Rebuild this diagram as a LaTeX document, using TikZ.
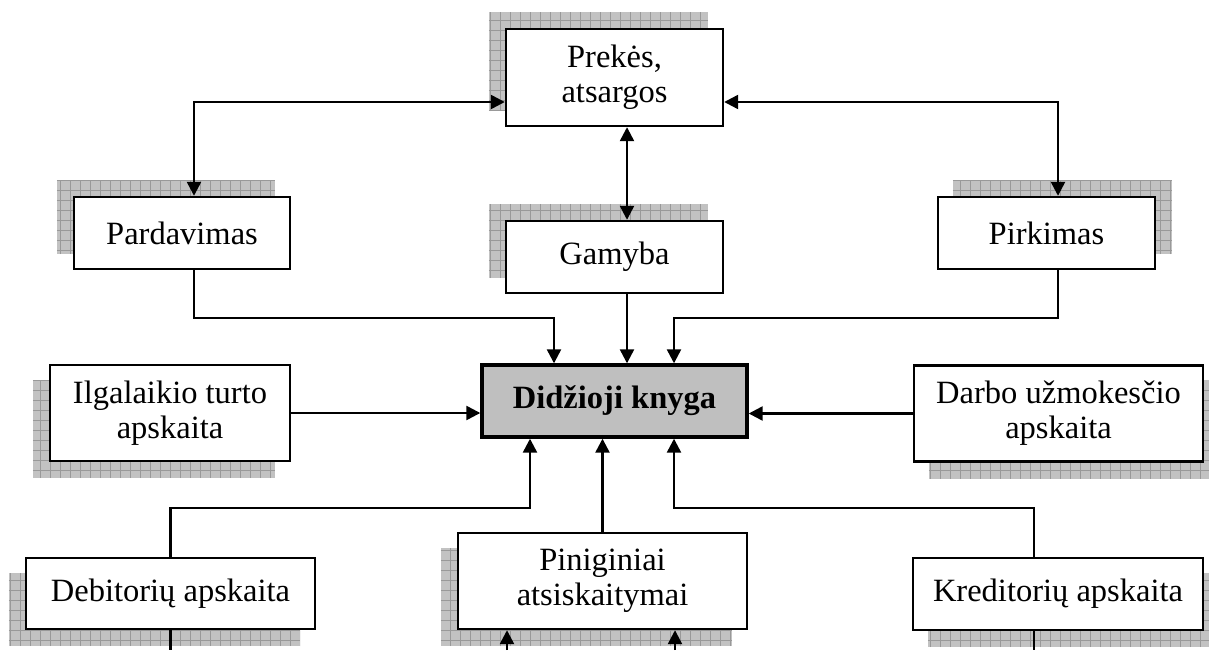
\documentclass[tikz,border=0pt]{standalone}
\usepackage{fontspec}
\setmainfont{Liberation Serif}
\usetikzlibrary{arrows.meta,backgrounds}
\tikzset{
  box/.style={draw=black, line width=2.4pt, fill=white, inner sep=0pt, align=center,
    font=\fontsize{32.5}{35}\selectfont},
  mainbox/.style={box, line width=3.4pt, fill=black!25, font=\fontsize{32.5}{35}\selectfont\bfseries},
  conn/.style={line width=2.4pt, -{Triangle[length=14pt,width=14pt]}},
  biconn/.style={line width=2.4pt, {Triangle[length=14pt,width=14pt]}-{Triangle[length=14pt,width=14pt]}},
  plain/.style={line width=2.4pt},
  shfill/.style={fill=black!24},
  shgrid/.style={draw=black!40, line width=0.6pt, step=10pt},
}
\newcommand{\gridshadow}[3]{%
  \begin{scope}
    \clip ([shift={(#2,#3)}]#1.south west) rectangle ([shift={(#2,#3)}]#1.north east);
    \fill[shfill] ([shift={(#2,#3)}]#1.south west) rectangle ([shift={(#2,#3)}]#1.north east);
    \draw[shgrid] ([shift={(#2,#3)}]#1.south west) grid ([shift={(#2,#3)}]#1.north east);
  \end{scope}}
\begin{document}
\begin{tikzpicture}[x=1pt,y=-1pt]
\useasboundingbox (0,0) rectangle (1209,650);
% nodes
\node[box, minimum width=217pt, minimum height=97pt] (prek) at (614.5,77.5) {Prekės,\\atsargos};
\node[box, minimum width=216pt, minimum height=72pt] (pard) at (182,233) {Pardavimas};
\node[box, minimum width=217pt, minimum height=72pt] (gam) at (614.5,257) {Gamyba};
\node[box, minimum width=217pt, minimum height=72pt] (pirk) at (1046.5,233) {Pirkimas};
\node[mainbox, minimum width=265pt, minimum height=72pt] (main) at (614.5,401) {Didžioji knyga};
\node[box, minimum width=240pt, minimum height=96pt] (ilg) at (170,413) {Ilgalaikio turto\\apskaita};
\node[box, minimum width=289pt, minimum height=96pt] (darb) at (1058.5,413.5) {Darbo užmokesčio\\apskaita};
\node[box, minimum width=289pt, minimum height=71pt] (deb) at (170.5,593.5) {Debitorių apskaita};
\node[box, minimum width=289pt, minimum height=96pt] (pin) at (602.5,581) {Piniginiai\\atsiskaitymai};
\node[box, minimum width=290pt, minimum height=72pt] (kred) at (1058,594) {Kreditorių apskaita};
% shadows
\begin{scope}[on background layer]
  \gridshadow{prek}{-16pt}{16pt}
  \gridshadow{pard}{-16pt}{16pt}
  \gridshadow{gam}{-16pt}{16pt}
  \gridshadow{pirk}{16pt}{16pt}
  \gridshadow{ilg}{-16pt}{-16pt}
  \gridshadow{darb}{16pt}{-16pt}
  \gridshadow{deb}{-16pt}{-16pt}
  \gridshadow{pin}{-16pt}{-16pt}
  \gridshadow{kred}{16pt}{-16pt}
\end{scope}
% free ends at the lower edge
\coordinate (debend) at (170.5,650);
\coordinate (pinA) at (507,650);
\coordinate (pinB) at (675,650);
\coordinate (kredend) at (1034,650);
% connectors
\draw[biconn] ([yshift=-24.5pt]prek.west) -| ([xshift=12pt]pard.north);
\draw[biconn] ([yshift=-24.5pt]prek.east) -| ([xshift=11.5pt]pirk.north);
\draw[biconn] ([xshift=12.5pt]prek.south) -- ([xshift=12.5pt]gam.north);
\draw[conn] ([xshift=12pt]pard.south) -- ++(0,48) -| ([xshift=-60.5pt]main.north);
\draw[conn] ([xshift=12.5pt]gam.south) -- ([xshift=12.5pt]main.north);
\draw[conn] ([xshift=11.5pt]pirk.south) -- ++(0,48) -| ([xshift=59.5pt]main.north);
\draw[conn] (ilg.east) -- (main.west |- ilg.east);
\draw[conn] (darb.west) -- (main.east |- darb.west);
\draw[conn] (deb.north) -- ++(0,-49) -| ([xshift=-84.5pt]main.south);
\draw[conn] (pin.north) -- (main.south -| pin.north);
\draw[conn] ([xshift=-24pt]kred.north) -- ++(0,-49) -| ([xshift=59.5pt]main.south);
\draw[plain] (deb.south) -- (debend);
\draw[conn] (pinA) -- (pin.south -| pinA);
\draw[conn] (pinB) -- (pin.south -| pinB);
\draw[plain] ([xshift=-24pt]kred.south) -- (kredend);
\end{tikzpicture}
\end{document}
